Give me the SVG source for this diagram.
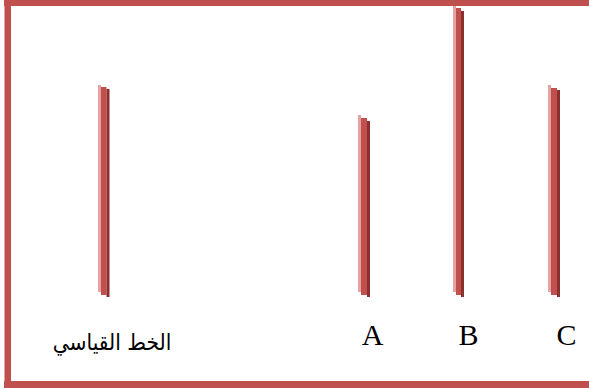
<svg xmlns="http://www.w3.org/2000/svg" width="589" height="390" viewBox="0 0 589 390">
<style>
.frame{fill:none;stroke:#c0504d;stroke-width:7}
.hl{fill:#e6a2a0}
.md{fill:#c0504d}
.dk{fill:#8c2f2d}
.lbl{font-family:"Liberation Serif","Times New Roman",serif;font-size:30px;fill:#000;text-anchor:middle}
.ar{font-family:"DejaVu Sans","Noto Sans",sans-serif;font-size:23px;fill:#000;text-anchor:middle}
</style>
<rect width="589" height="390" fill="#ffffff"/>
<rect class="frame" x="7.5" y="2.5" width="600" height="382"/>
<rect x="4" y="6" width="1" height="375" fill="#e6a2a0"/>
<g id="standard">
<rect class="hl" x="98" y="85" width="3" height="207"/>
<rect class="md" x="101" y="87" width="5.5" height="208"/>
<rect class="dk" x="106.5" y="89" width="3" height="208"/>
<text class="ar" transform="translate(112,350) scale(0.88,1)" direction="rtl">الخط القياسي</text>
</g>
<g id="A">
<rect class="hl" x="358" y="115" width="3" height="177"/>
<rect class="md" x="361" y="118" width="6" height="177"/>
<rect class="dk" x="367" y="121" width="3" height="176"/>
<text class="lbl" x="372.5" y="345">A</text>
</g>
<g id="B">
<rect class="hl" x="453" y="6" width="3" height="286"/>
<rect class="md" x="456" y="8" width="5" height="287"/>
<rect class="dk" x="461" y="11" width="3" height="286"/>
<text class="lbl" x="468.5" y="345">B</text>
</g>
<g id="C">
<rect class="hl" x="548" y="85" width="3" height="207"/>
<rect class="md" x="551" y="88" width="6" height="207"/>
<rect class="dk" x="557" y="90" width="3" height="207"/>
<text class="lbl" x="566.5" y="345">C</text>
</g>
<g id="connectors"></g>
</svg>
